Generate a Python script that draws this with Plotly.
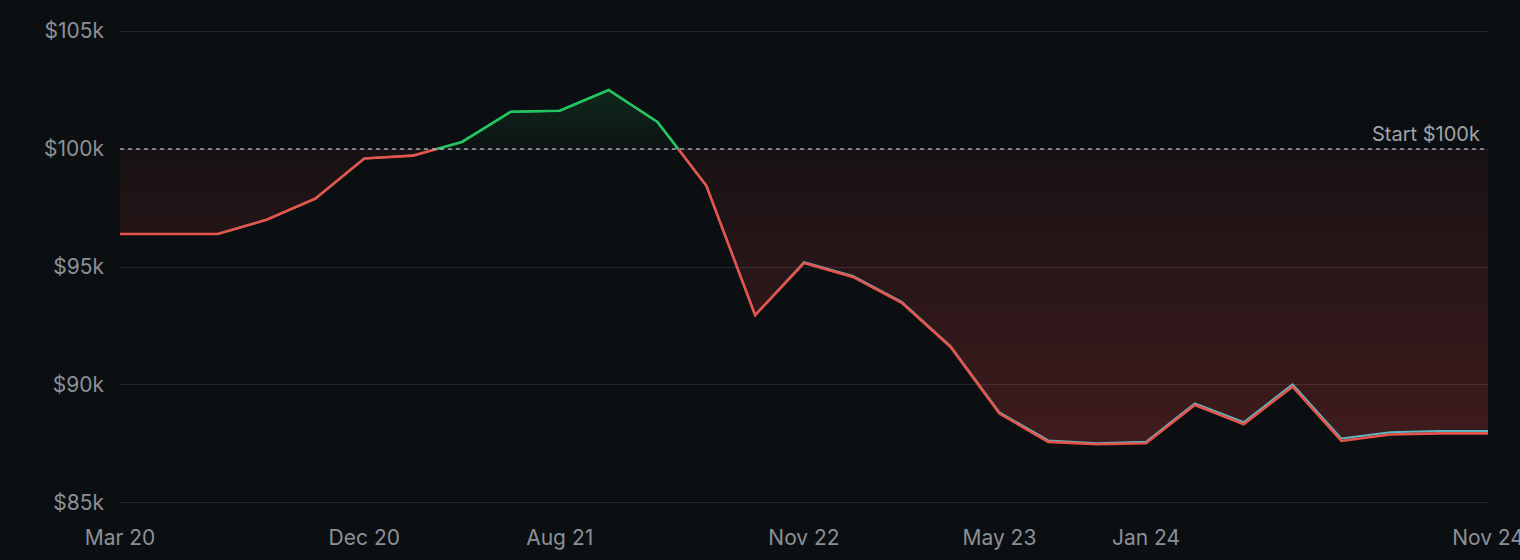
import numpy as np
import plotly.graph_objects as go

# ---- data ----
START = 100000
equity = [96400, 96400, 96400, 97000, 97900, 99600, 99720, 100300, 101580, 101620,
          102500, 101150, 98450, 92960, 95170, 94580, 93480, 91610, 88790, 87590,
          87490, 87530, 89150, 88340, 89930, 87630, 87900, 87950, 87950]
benchmark = [96400, 96400, 96400, 97000, 97900, 99600, 99720, 100300, 101580, 101620,
             102500, 101150, 98450, 92960, 95210, 94620, 93520, 91650, 88840, 87650,
             87530, 87590, 89220, 88420, 90030, 87730, 88000, 88050, 88050]
tick_idx = [0, 5, 9, 14, 18, 21, 28]
tick_labels = ["Mar 20", "Dec 20", "Aug 21", "Nov 22", "May 23", "Jan 24", "Nov 24"]
y_ticks = [85000, 90000, 95000, 100000, 105000]
y_tick_labels = ["$85k", "$90k", "$95k", "$100k", "$105k"]

BG = "#0c0f11"
RED = "#e5534b"
GREEN = "#22c55e"
TEAL = "#5ab8c4"
TXT = "#8b9096"

# ---- insert baseline crossings ----
n = len(equity)
x = np.arange(n, dtype=float)
y = np.array(equity, dtype=float)
xs, ys = [x[0]], [y[0]]
for i in range(1, n):
    y0, y1 = y[i - 1], y[i]
    if (y0 - START) * (y1 - START) < 0:
        t = (START - y0) / (y1 - y0)
        xs.append(x[i - 1] + t)
        ys.append(START)
    xs.append(x[i])
    ys.append(y[i])
xs = np.array(xs)
ys = np.array(ys)
below = np.minimum(ys, START)
above = np.maximum(ys, START)
base = np.full_like(ys, START)

fig = go.Figure()
# red fill (below start)
fig.add_trace(go.Scatter(x=xs, y=base, mode="lines", line=dict(width=0), hoverinfo="skip", showlegend=False))
fig.add_trace(go.Scatter(x=xs, y=below, mode="lines", line=dict(width=0), fill="tonexty",
                         fillgradient=dict(type="vertical", start=min(equity), stop=START,
                                           colorscale=[[0, "rgba(239,68,68,0.23)"], [1, "rgba(239,68,68,0.05)"]]),
                         hoverinfo="skip", showlegend=False))
# green fill (above start)
fig.add_trace(go.Scatter(x=xs, y=base, mode="lines", line=dict(width=0), hoverinfo="skip", showlegend=False))
fig.add_trace(go.Scatter(x=xs, y=above, mode="lines", line=dict(width=0), fill="tonexty",
                         fillgradient=dict(type="vertical", start=START, stop=max(equity),
                                           colorscale=[[0, "rgba(34,197,94,0.02)"], [1, "rgba(34,197,94,0.14)"]]),
                         hoverinfo="skip", showlegend=False))

# lines
fig.add_trace(go.Scatter(x=x, y=benchmark, mode="lines", line=dict(color=TEAL, width=2), showlegend=False))
fig.add_trace(go.Scatter(x=xs, y=np.where(ys <= START, ys, np.nan), mode="lines",
                         line=dict(color=RED, width=2.6), connectgaps=False, showlegend=False))
fig.add_trace(go.Scatter(x=xs, y=np.where(ys >= START, ys, np.nan), mode="lines",
                         line=dict(color=GREEN, width=2.6), connectgaps=False, showlegend=False))

fig.add_hline(y=START, line=dict(color="rgba(200,200,200,0.8)", width=1.5, dash="4px,4px"))
fig.add_annotation(x=1, xref="paper", y=START, yref="y", text="Start $100k", showarrow=False,
                   xanchor="right", yanchor="bottom", xshift=-6, yshift=1,
                   font=dict(color="#a0a4a8", size=20))

fig.update_layout(
    width=1520, height=560,
    margin=dict(l=120, r=32, t=30, b=56),
    paper_bgcolor=BG, plot_bgcolor=BG,
    font=dict(family="Inter, Roboto, sans-serif", color=TXT, size=20),
    xaxis=dict(range=[0, n - 1], tickvals=tick_idx, ticktext=tick_labels, showgrid=False,
               zeroline=False, showline=False, ticks="", ticklabelstandoff=19, automargin=False,
               ticklabeloverflow="allow", tickfont=dict(size=21, color=TXT)),
    yaxis=dict(range=[84957, 105043], tickvals=y_ticks, ticktext=y_tick_labels, showgrid=True,
               gridcolor="#23282c", gridwidth=1, zeroline=False, showline=False, ticks="",
               automargin=False, ticklabelstandoff=15, tickfont=dict(size=21, color=TXT)),
)

fig.write_html("out.html")
